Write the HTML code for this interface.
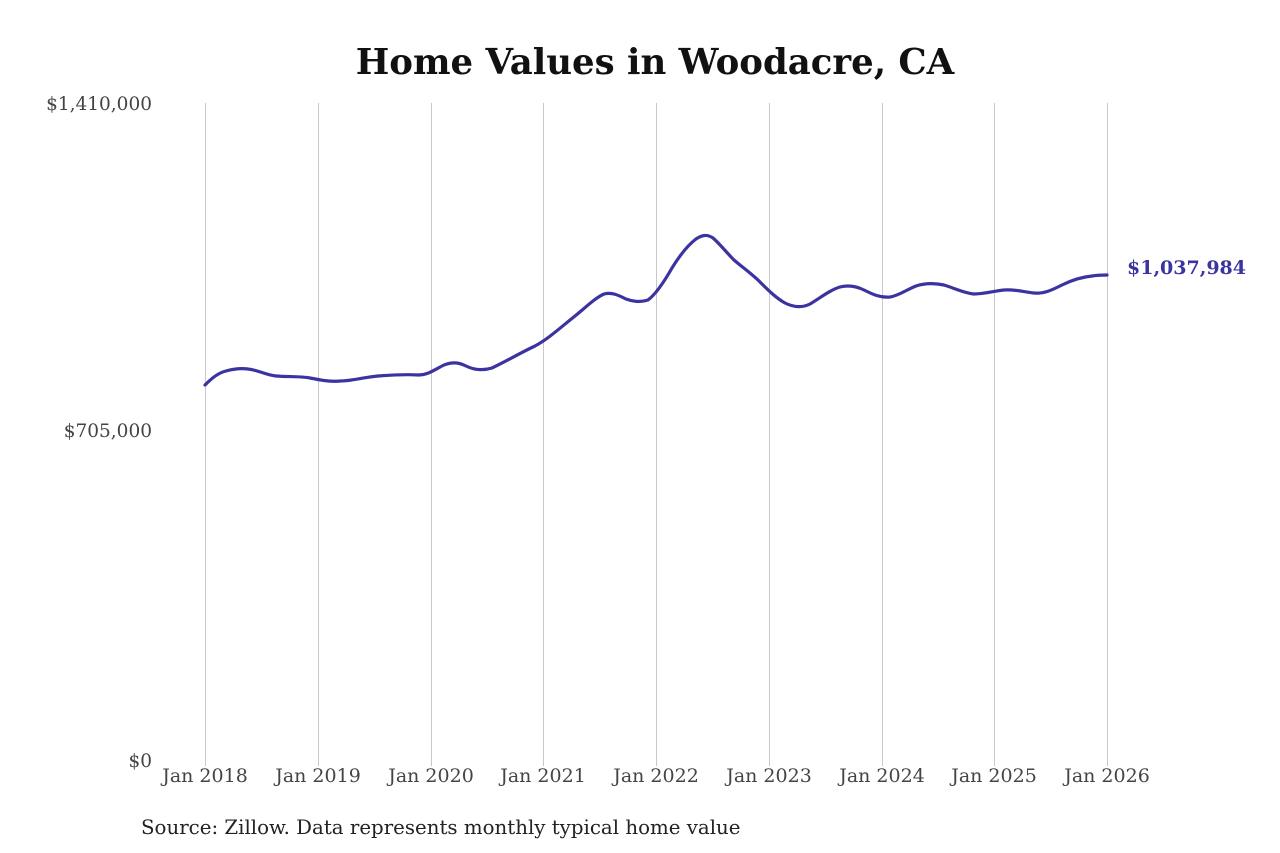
<!DOCTYPE html>
<html><head><meta charset="utf-8"><style>
html,body{margin:0;padding:0;background:#fff;}
svg{display:block;font-family:"DejaVu Serif","Liberation Serif",serif;}
</style></head><body>
<svg width="1280" height="853" viewBox="0 0 1280 853" xmlns="http://www.w3.org/2000/svg">
<rect width="1280" height="853" fill="#fff"/>
<text x="655" y="74" text-anchor="middle" font-size="35.5" font-weight="bold" fill="#111">Home Values in Woodacre, CA</text>
<g stroke="#c8c8c8" stroke-width="1">
<line x1="205.5" y1="103" x2="205.5" y2="766"/>
<line x1="318.5" y1="103" x2="318.5" y2="766"/>
<line x1="431.5" y1="103" x2="431.5" y2="766"/>
<line x1="543.5" y1="103" x2="543.5" y2="766"/>
<line x1="656.5" y1="103" x2="656.5" y2="766"/>
<line x1="769.5" y1="103" x2="769.5" y2="766"/>
<line x1="882.5" y1="103" x2="882.5" y2="766"/>
<line x1="994.5" y1="103" x2="994.5" y2="766"/>
<line x1="1107.5" y1="103" x2="1107.5" y2="766"/>
</g>
<g font-size="18.5" fill="#444" text-anchor="end">
<text x="152" y="110">$1,410,000</text>
<text x="152" y="437">$705,000</text>
<text x="152" y="767">$0</text>
</g>
<g font-size="19" fill="#444" text-anchor="middle">
<text x="205" y="782">Jan 2018</text>
<text x="318" y="782">Jan 2019</text>
<text x="431" y="782">Jan 2020</text>
<text x="543" y="782">Jan 2021</text>
<text x="656" y="782">Jan 2022</text>
<text x="769" y="782">Jan 2023</text>
<text x="882" y="782">Jan 2024</text>
<text x="994" y="782">Jan 2025</text>
<text x="1107" y="782">Jan 2026</text>
</g>
<text x="141" y="834" font-size="19.8" fill="#222">Source: Zillow. Data represents monthly typical home value</text>
<path fill="none" stroke="#3b33a0" stroke-width="3.2" stroke-linejoin="round" stroke-linecap="round"
d="M205,385 C212,378 218,373 226,371 C233,369 240,368 248,369 C258,370 266,375 276,376 C288,377 300,376 310,378 C320,380 330,382 340,381 C352,381 365,377 378,376 C392,375 405,374 418,375 C428,375 434,370 444,365 C452,362 458,362 466,366 C474,370 482,371 492,368 C505,362 520,353 535,346 C548,339 560,328 575,316 C585,308 595,298 604,294 C612,292 618,295 626,299 C634,302 642,302 648,300 C656,294 664,282 672,268 C680,255 688,245 696,239 C702,235 707,234 713,238 C720,244 726,252 734,260 C742,267 752,274 760,282 C768,290 776,298 785,303 C793,307 802,308 810,304 C820,298 830,290 840,287 C848,285 856,286 864,290 C872,294 880,298 890,297 C898,296 906,290 916,286 C925,283 934,283 944,285 C954,288 964,293 974,294 C984,294 994,291 1004,290 C1014,289 1024,292 1034,293 C1044,294 1052,290 1062,285 C1072,280 1082,277 1092,276 C1098,275 1103,275 1107,275"/>
<text x="1127" y="274" font-size="19" font-weight="bold" fill="#3b33a0">$1,037,984</text>
</svg>
</body></html>
